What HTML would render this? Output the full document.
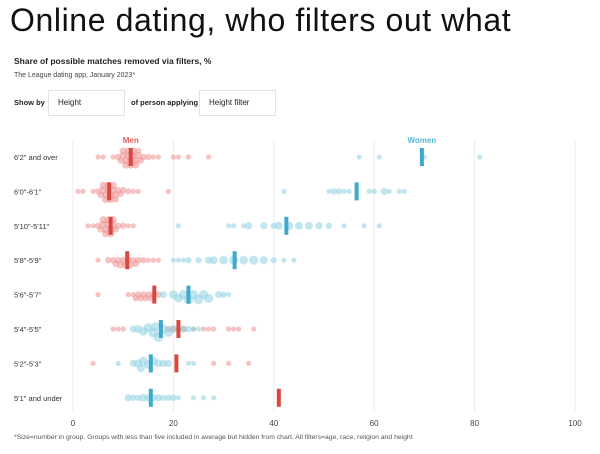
<!DOCTYPE html>
<html><head><meta charset="utf-8"><style>
body{margin:0;width:600px;height:454px;background:#fff;font-family:"Liberation Sans",sans-serif;overflow:hidden;position:relative}
.t{position:absolute;white-space:nowrap}
.box{position:absolute;border:1px solid #e2e2e2;background:#fff;font-size:8px;color:#222;padding-left:9px;line-height:24px;box-sizing:border-box;height:26px}
</style></head><body>
<div class="t" style="left:10px;top:2px;font-size:32px;letter-spacing:0.6px;color:#111">Online dating, who filters out what</div>
<div class="t" style="left:14px;top:56px;font-size:8.5px;font-weight:bold;color:#222">Share of possible matches removed via filters, %</div>
<div class="t" style="left:14px;top:72px;font-size:7px;color:#444">The League dating app, January 2023*</div>
<div class="t" style="left:14px;top:98px;font-size:7.5px;font-weight:bold;color:#222">Show by</div>
<div class="box" style="left:48px;top:90px;width:77px">Height</div>
<div class="t" style="left:131px;top:98px;font-size:7.5px;font-weight:bold;color:#222">of person applying</div>
<div class="box" style="left:199px;top:90px;width:77px">Height filter</div>
<svg id="c" width="600" height="454" style="position:absolute;left:0;top:0"></svg>
<div class="t" style="left:14px;top:434px;font-size:6.8px;color:#555">*Size=number in group. Groups with less than five included in average but hidden from chart. All filters=age, race, religion and height</div>
<script>
const categories=["6'2\" and over","6'0\"-6'1\"","5'10\"-5'11\"","5'8\"-5'9\"","5'6\"-5'7\"","5'4\"-5'5\"","5'2\"-5'3\"","5'1\" and under"];
const menMeans=[11.5,7.2,7.5,10.8,16.2,21,20.6,41];
const womenMeans=[69.5,56.5,42.5,32.2,23,17.5,15.5,15.5];
const xTicks=[0,20,40,60,80,100];
const menDots=[
[[5,1],[6,1],[8,1],[9,2],[9.5,2],[10,3],[10,3],[10.5,3],[10.5,3],[11,3],[11,3],[11.5,3],[11.5,3],[12,3],[12,3],[12.5,3],[12.5,3],[13,3],[13,2],[13.5,2],[14,2],[15,2],[16,1],[17,1],[20,1],[21,1],[23,1],[27,1]],
[[1,1],[2,1],[4,1],[5,2],[5.5,2],[6,3],[6,3],[6.5,3],[6.5,3],[7,3],[7,3],[7.5,3],[7.5,3],[8,3],[8,3],[8.5,3],[8.5,2],[9,2],[9.5,2],[10,2],[11,2],[12,1],[13,1],[19,1]],
[[3,1],[4,1],[5,2],[5.5,2],[6,3],[6,3],[6.5,3],[6.5,3],[7,3],[7,3],[7.5,3],[7.5,3],[8,3],[8,3],[8.5,2],[9,2],[10,2],[11,1],[12,1]],
[[5,1],[7,2],[8,2],[8.5,2],[9,2],[9.5,3],[10,3],[10.5,3],[11,3],[11.5,2],[12,2],[12.5,2],[13,2],[14,2],[15,1],[16,1],[17,1]],
[[5,1],[11,1],[12,1],[12.5,2],[13,2],[13.5,2],[14,2],[14.5,2],[15,2],[15.5,2],[16,2],[17,2]],
[[8,1],[9,1],[10,1],[19,2],[20,2],[21,2],[22,2],[24,1],[26,1],[27,1],[28,1],[31,1],[32,1],[33,1],[36,1]],
[[4,1],[35,1],[28,1],[31,1]],
[]];
const womenDots=[
[[57,1],[61,1],[70,1],[81,1]],
[[42,1],[51,1],[52,2],[53,2],[54,1],[55,1],[59,1],[60,1],[62,3],[63,1],[65,1],[66,1]],
[[21,1],[31,1],[32,1],[34,1],[35,3],[38,3],[40,2],[41,4],[43,5],[45,4],[47,4],[49,3],[51,2],[54,1],[58,1],[61,1]],
[[20,1],[21,1],[22,1],[23,2],[25,2],[27,3],[28,4],[30,5],[32,6],[34,5],[36,6],[38,4],[40,2],[42,1],[44,1]],
[[18,3],[20,5],[21,5],[22,6],[23,7],[24,6],[25,7],[26,6],[27,6],[29,3],[30,2],[31,1]],
[[12,3],[13,4],[14,5],[15,6],[16,7],[16.5,6],[17,7],[18,6],[19,5],[20,4],[22,3],[23,2],[24,1],[25,1]],
[[9,1],[12,3],[13,4],[13.5,4],[14,5],[15,5],[16,5],[17,4],[18,3],[19,3],[23,1],[24,1]],
[[11,3],[12,2],[13,2],[14,4],[15,3],[16,3],[17,3],[18,2],[19,2],[20,2],[21,1],[24,1],[26,1],[28,1]]];
const svg=document.getElementById('c');const NS='http://www.w3.org/2000/svg';
const x=v=>73+v*5.02;const rowY=i=>157+i*34.4;
function el(t,a){const e=document.createElementNS(NS,t);for(const k in a)e.setAttribute(k,a[k]);svg.appendChild(e);return e;}
xTicks.forEach(t=>{const g=el('line',{x1:x(t),x2:x(t),y1:140,y2:412,stroke:'#ececec','stroke-width':1});


const l=el('text',{x:x(t),y:426,'font-size':8,fill:'#444','text-anchor':'middle'});l.textContent=t;

});
let m=el('text',{x:x(11.5),y:143,'font-size':8,'font-weight':'bold',fill:'#e06060','text-anchor':'middle'});m.textContent='Men';


let w=el('text',{x:x(69.5),y:143,'font-size':8,'font-weight':'bold',fill:'#55b8d6','text-anchor':'middle'});w.textContent='Women';


categories.forEach((c,i)=>{const t=el('text',{x:14,y:rowY(i)+3,'font-size':7.5,fill:'#333'});t.textContent=c;

});
function swarm(dots,i,fill,name){const placed=[];const cy=rowY(i);
dots.forEach(([v,s])=>{const r=1.2+Math.sqrt(s)*1.4;const cx=x(v);let oy=0;
for(let k=0;k<30;k++){oy=(k%2?1:-1)*Math.ceil(k/2)*1.2;if(!placed.some(p=>Math.hypot(p[0]-cx,p[1]-(cy+oy))<(p[2]+r)*0.65))break;}
if(Math.abs(oy)>8)oy=Math.sign(oy)*8;placed.push([cx,cy+oy,r]);
const d=el('circle',{cx:cx,cy:cy+oy,r:r,fill:fill,'fill-opacity':0.55});

});}
categories.forEach((c,i)=>{swarm(menDots[i],i,'#ef8f8f','men-dot');swarm(womenDots[i],i,'#8fd2e4','women-dot');});
categories.forEach((c,i)=>{
const a=el('rect',{x:x(menMeans[i])-2,y:rowY(i)-9,width:4,height:18,fill:'#d9473f'});


const b=el('rect',{x:x(womenMeans[i])-2,y:rowY(i)-9,width:4,height:18,fill:'#3fa9cc'});

});
</script>
</body></html>
